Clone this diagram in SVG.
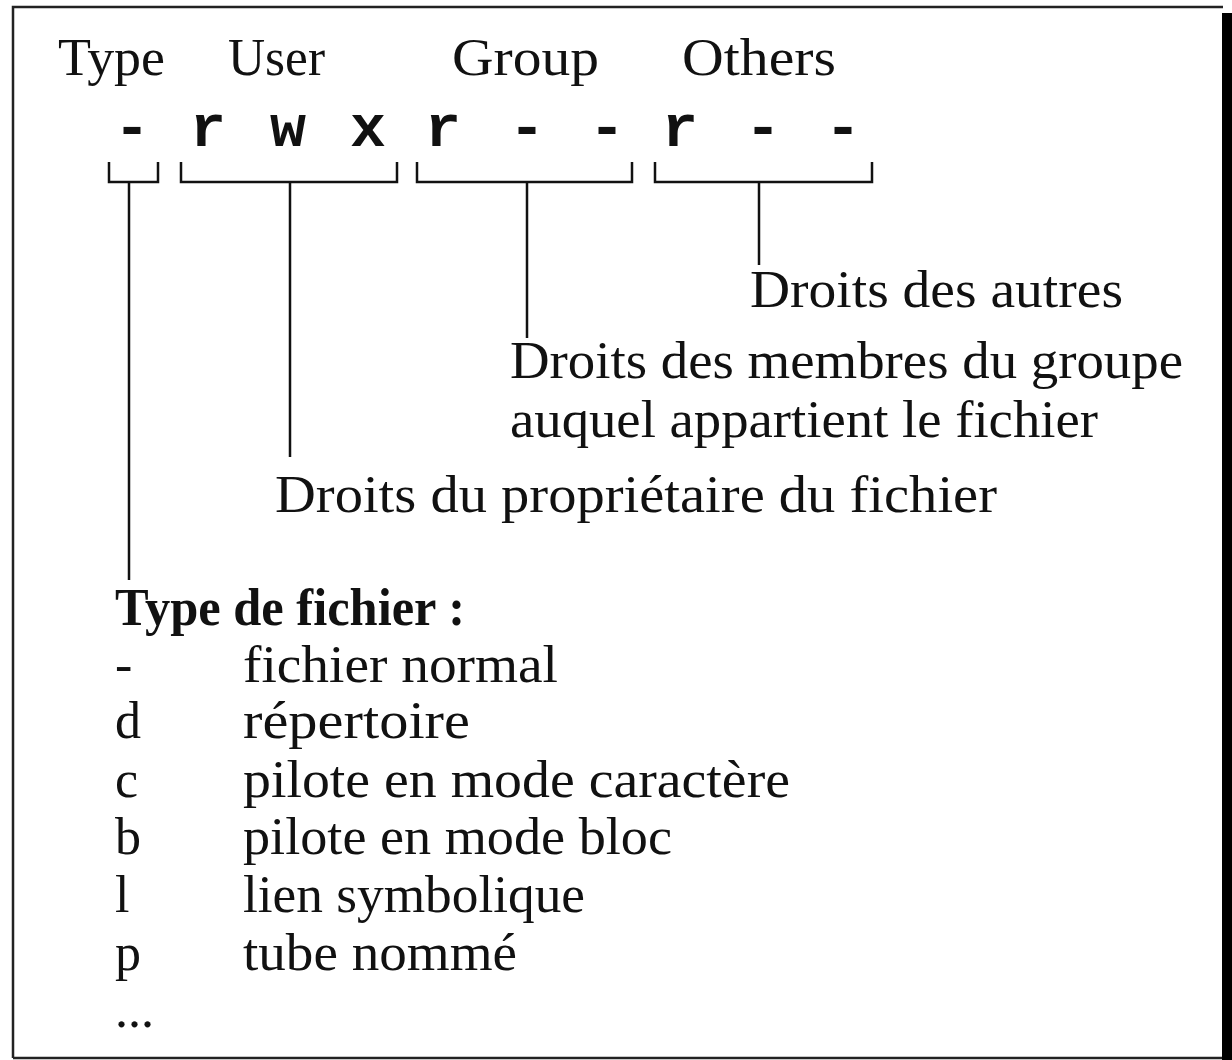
<svg xmlns="http://www.w3.org/2000/svg" width="1232" height="1060" viewBox="0 0 1232 1060">
  <style>
    .lbl { font-family: "Liberation Serif", "Times New Roman", serif; font-size: 52px; fill: #111; }
    .bold { font-weight: bold; }
    .perm { font-family: "Liberation Mono", "Courier New", monospace; font-size: 60px; font-weight: bold; fill: #111; text-anchor: middle; }
    .wire { fill: none; stroke: #111; stroke-width: 2.5; }
    .frame { fill: none; stroke: #222; stroke-width: 2.5; }
  </style>
  <rect width="1232" height="1060" fill="#ffffff"/>

  <!-- outer frame with drop shadow on the right -->
  <g id="frame">
    <path class="frame" d="M13,1058 V7 H1223"/>
    <path class="frame" d="M13,1058 H1222"/>
    <rect x="1222" y="13" width="10" height="1047" fill="#000"/>
  </g>

  <!-- column headings -->
  <g id="headings">
    <text class="lbl" x="58" y="75" textLength="107" lengthAdjust="spacingAndGlyphs">Type</text>
    <text class="lbl" x="228" y="75" textLength="97" lengthAdjust="spacingAndGlyphs">User</text>
    <text class="lbl" x="452" y="75" textLength="147" lengthAdjust="spacingAndGlyphs">Group</text>
    <text class="lbl" x="682" y="75" textLength="154" lengthAdjust="spacingAndGlyphs">Others</text>
  </g>

  <!-- permission string -->
  <g id="perms">
    <text class="perm" x="132" y="146">-</text>
    <text class="perm" x="208" y="146">r</text>
    <text class="perm" x="288" y="146">w</text>
    <text class="perm" x="368" y="146">x</text>
    <text class="perm" x="443" y="146">r</text>
    <text class="perm" x="527" y="146">-</text>
    <text class="perm" x="607" y="146">-</text>
    <text class="perm" x="680" y="146">r</text>
    <text class="perm" x="763" y="146">-</text>
    <text class="perm" x="843" y="146">-</text>
  </g>

  <!-- brackets and leader lines -->
  <g id="connectors">
    <path class="wire" d="M109,162 V182 H158 V162 M129,182 V580"/>
    <path class="wire" d="M181,162 V182 H397 V162 M290,182 V457"/>
    <path class="wire" d="M417,162 V182 H632 V162 M527,182 V338"/>
    <path class="wire" d="M655,162 V182 H872 V162 M759,182 V265"/>
  </g>

  <g id="others-note">
    <text class="lbl" x="750" y="307" textLength="373" lengthAdjust="spacingAndGlyphs">Droits des autres</text>
  </g>

  <g id="group-note">
    <text class="lbl" x="510" y="378" textLength="673" lengthAdjust="spacingAndGlyphs">Droits des membres du groupe</text>
    <text class="lbl" x="510" y="437" textLength="588" lengthAdjust="spacingAndGlyphs">auquel appartient le fichier</text>
  </g>

  <g id="user-note">
    <text class="lbl" x="275" y="512" textLength="722" lengthAdjust="spacingAndGlyphs">Droits du propriétaire du fichier</text>
  </g>

  <!-- file type legend -->
  <g id="type-legend">
    <text class="lbl bold" x="115" y="625" textLength="350" lengthAdjust="spacingAndGlyphs">Type de fichier :</text>
    <text class="lbl" x="115" y="682">-</text>
    <text class="lbl" x="243" y="682" textLength="315" lengthAdjust="spacingAndGlyphs">fichier normal</text>
    <text class="lbl" x="115" y="738">d</text>
    <text class="lbl" x="243" y="738" textLength="227" lengthAdjust="spacingAndGlyphs">répertoire</text>
    <text class="lbl" x="115" y="797">c</text>
    <text class="lbl" x="243" y="797" textLength="547" lengthAdjust="spacingAndGlyphs">pilote en mode caractère</text>
    <text class="lbl" x="115" y="854">b</text>
    <text class="lbl" x="243" y="854" textLength="429" lengthAdjust="spacingAndGlyphs">pilote en mode bloc</text>
    <text class="lbl" x="115" y="912">l</text>
    <text class="lbl" x="243" y="912" textLength="342" lengthAdjust="spacingAndGlyphs">lien symbolique</text>
    <text class="lbl" x="115" y="970">p</text>
    <text class="lbl" x="243" y="970" textLength="274" lengthAdjust="spacingAndGlyphs">tube nommé</text>
    <text class="lbl" x="115" y="1027">...</text>
  </g>
</svg>
